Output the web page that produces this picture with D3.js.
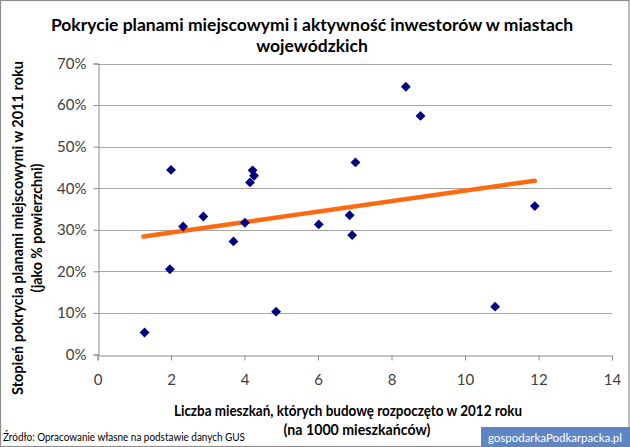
<!DOCTYPE html>
<html><head><meta charset="utf-8">
<script src="https://cdn.jsdelivr.net/npm/d3@7"></script>
<style>
body{margin:0;background:#fff;}
svg{display:block;font-family:Lato, "Open Sans", sans-serif;}
</style></head>
<body>
<svg id="c" width="630" height="447"></svg>
<script>
const titleLines = ["Pokrycie planami miejscowymi i aktywność inwestorów w miastach", "wojewódzkich"];
const xTitleLines = ["Liczba mieszkań, których budowę rozpoczęto w 2012 roku", "(na 1000 mieszkańców)"];
const yTitleLines = ["Stopień pokrycia planami miejscowymi w 2011 roku", "(jako % powierzchni)"];
const sourceText = "Źródło: Opracowanie własne na podstawie danych GUS";
const badgeText = "gospodarkaPodkarpacka.pl";

const xTicks = [0, 2, 4, 6, 8, 10, 12, 14];
const yTicks = [0, 0.1, 0.2, 0.3, 0.4, 0.5, 0.6, 0.7];

// dwellings started per 1000 inhabitants
const xValues = [1.28, 2.00, 1.97, 2.33, 2.88, 3.70, 4.01, 4.15, 4.26, 4.22, 4.86, 6.02, 6.86, 6.93, 7.02, 8.39, 8.79, 10.82, 11.90];
// coverage share
const yValues = [0.053, 0.444, 0.205, 0.308, 0.332, 0.272, 0.317, 0.414, 0.430, 0.443, 0.103, 0.313, 0.335, 0.287, 0.462, 0.644, 0.574, 0.115, 0.357];
// trend line endpoints
const trendX = [1.25, 11.9];
const trendY = [0.284, 0.418];

const svg = d3.select("#c");
const W = 630, H = 447;

// outer border
svg.append("rect").attr("x", 0.5).attr("y", 0.5).attr("width", W - 1.5).attr("height", H - 1)
  .attr("fill", "#fff").attr("stroke", "#8c8c8c").attr("stroke-width", 1.2);

const x = d3.scaleLinear().domain([0, 14]).range([97.5, 612]);
const y = d3.scaleLinear().domain([0, 0.7]).range([354.5, 63.5]);

// gridlines
svg.append("g").selectAll("line").data(yTicks.slice(1)).join("line")
  .attr("x1", x(0)).attr("x2", x(14))
  .attr("y1", d => Math.round(y(d)) + 0.5).attr("y2", d => Math.round(y(d)) + 0.5)
  .attr("stroke", "#a6a6a6").attr("stroke-width", 1);

// axes
const xAxis = d3.axisBottom(x).tickValues(xTicks).tickSize(5).tickPadding(14).tickFormat(d3.format("d"));
const gx = svg.append("g").attr("transform", `translate(0,${Math.round(y(0)) + 0.5})`).call(xAxis);
const yAxis = d3.axisLeft(y).tickValues(yTicks).tickSize(5).tickPadding(6).tickFormat(d3.format(".0%"));
const gy = svg.append("g").attr("transform", `translate(${Math.round(x(0)) + 0.5},0)`).call(yAxis);
[gx, gy].forEach(g => {
  g.select(".domain").attr("stroke", "#8c8c8c");
  g.selectAll(".tick line").attr("stroke", "#8c8c8c");
  g.selectAll(".tick text").attr("fill", "#404040").attr("font-size", 15).attr("font-family", "Lato, sans-serif");
});
gy.selectAll(".tick text").attr("dx", -1);

// trend line
svg.append("line")
  .attr("x1", x(trendX[0])).attr("y1", y(trendY[0]))
  .attr("x2", x(trendX[1])).attr("y2", y(trendY[1]))
  .attr("stroke", "#ff6a10").attr("stroke-width", 4.5).attr("stroke-linecap", "round");

// points
const diamond = d3.symbol().type(d3.symbolDiamond2).size(62);
svg.append("g").selectAll("path").data(xValues.map((v, i) => [v, yValues[i]])).join("path")
  .attr("d", diamond)
  .attr("transform", d => `translate(${x(d[0])},${y(d[1])})`)
  .attr("fill", "#000080");

// title
svg.append("g").selectAll("text").data(titleLines).join("text")
  .attr("x", 312).attr("y", (d, i) => 31 + i * 21)
  .attr("text-anchor", "middle").attr("font-weight", "bold").attr("font-size", 17.5)
  .attr("fill", "#000").text(d => d);

// x axis title
const xtLen = [348, 147];
svg.append("g").selectAll("text").data(xTitleLines).join("text")
  .attr("x", (d, i) => i === 0 ? 348 : 357).attr("y", (d, i) => 416 + i * 18.5)
  .attr("text-anchor", "middle").attr("font-weight", "bold").attr("font-size", 14.5)
  .attr("textLength", (d, i) => xtLen[i]).attr("lengthAdjust", "spacingAndGlyphs")
  .attr("fill", "#000").text(d => d);

// y axis title
const ytLen = [334, 129];
svg.append("g").selectAll("text").data(yTitleLines).join("text")
  .attr("transform", (d, i) => `translate(${23 + i * 19},228) rotate(-90)`)
  .attr("text-anchor", "middle").attr("font-weight", "bold").attr("font-size", 14.5)
  .attr("textLength", (d, i) => ytLen[i]).attr("lengthAdjust", "spacingAndGlyphs")
  .attr("fill", "#000").text(d => d);

// source
svg.append("text").attr("x", 3).attr("y", 441).attr("font-size", 11.5).attr("fill", "#000")
  .attr("textLength", 242).attr("lengthAdjust", "spacingAndGlyphs")
  .text(sourceText);

// badge
svg.append("rect").attr("x", 481).attr("y", 427).attr("width", 149).attr("height", 20).attr("fill", "#6085c3");
svg.append("text").attr("x", 488).attr("y", 442).attr("font-size", 11.5)
  .attr("textLength", 134).attr("lengthAdjust", "spacingAndGlyphs")
  .attr("fill", "#fff").text(badgeText);
</script>
</body></html>
